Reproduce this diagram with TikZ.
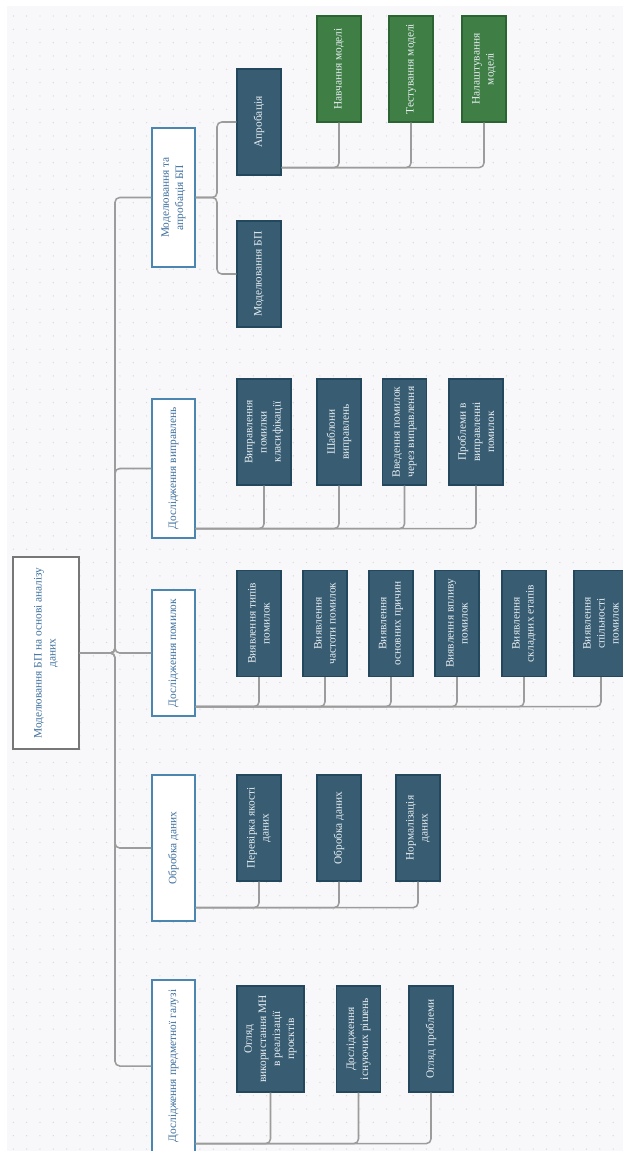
\documentclass[tikz,border=0pt]{standalone}
\usepackage{fontspec}
\setmainfont{Liberation Serif}
\usetikzlibrary{calc}

\definecolor{paper}{HTML}{F8F8FA}
\definecolor{dotc}{HTML}{D8D8DC}
\definecolor{linegray}{HTML}{9C9C9C}
\definecolor{rootline}{HTML}{777777}
\definecolor{stageline}{HTML}{4A86B0}
\definecolor{stagetext}{HTML}{3D6F9E}
\definecolor{taskfill}{HTML}{385D73}
\definecolor{taskline}{HTML}{23485D}
\definecolor{tasktext}{HTML}{E8EEF2}
\definecolor{trainfill}{HTML}{3F7F46}
\definecolor{trainline}{HTML}{2C6333}

\begin{document}
\begin{tikzpicture}[%
  x=0.03cm, y=-0.03cm,
  link/.style={draw=linegray, line width=1.3pt, rounded corners=4pt},
  box/.style={rotate=90, align=center, inner sep=1pt, line width=1pt,
    font=\fontsize{9.7}{12}\selectfont},
  root/.style={box, draw=rootline, fill=white, text=stagetext,
    minimum width=5.76cm, minimum height=1.98cm},
  stage/.style={box, draw=stageline, fill=white, text=stagetext,
    minimum height=1.29cm},
  task/.style={box, draw=taskline, fill=taskfill, text=tasktext,
    minimum width=3.18cm, minimum height=1.32cm},
  train/.style={task, draw=trainline, fill=trainfill},
]

  \clip (0,0) rectangle (623,1151);
  \fill[paper] (7,6) rectangle (623,1151);
  \foreach \i in {0,...,46}
    \foreach \j in {0,...,85}
      \fill[dotc] (13.3+13.33*\i, 16+13.33*\j) circle (0.6pt);

  % root and stages
  \node[root] (root) at (46,653) {Моделювання БП на основі аналізу\\даних};

  \node[stage, minimum width=4.17cm] (m1) at (173.5,197.5) {Моделювання та\\апробація БП};
  \node[stage, minimum width=4.17cm] (m2) at (173.5,468.5) {Дослідження виправлень};
  \node[stage, minimum width=3.78cm] (m3) at (173.5,653) {Дослідження помилок};
  \node[stage, minimum width=4.38cm] (m4) at (173.5,848) {Обробка даних};
  \node[stage, minimum width=5.16cm] (m5) at (173.5,1066) {Дослідження предметної галузі};

  \coordinate (trunk) at (115,653);
  \foreach \m in {m1,m2,m3,m4,m5}
    \draw[link] (root.south) -- (trunk) |- (\m.north);

  % modelling
  \node[task] (m11) at (259,122) {Апробація};
  \node[task] (m12) at (259,274) {Моделювання БП};
  \node[train] (g1) at (339,69) {Навчання моделі};
  \node[train] (g2) at (411,69) {Тестування моделі};
  \node[train] (g3) at (484,69) {Налаштування\\моделі};

  \coordinate (j1) at (217,197.5);
  \draw[link] (m1.south) -- (j1) |- (m11.north);
  \draw[link] (m1.south) -- (j1) |- (m12.north);
  \foreach \g in {g1,g2,g3}
    \draw[link] ($(m11.south west)+(0,-8)$) -| (\g.west);

  % corrections
  \node[task, minimum height=1.62cm] (m21) at (264,432) {Виправлення\\помилки\\класифікації};
  \node[task] (m22) at (339,432) {Шаблони\\виправлень};
  \node[task] (m23) at (404.5,432) {Введення помилок\\через виправлення};
  \node[task, minimum height=1.62cm] (m24) at (476,432) {Проблеми в\\виправленні\\помилок};
  \foreach \c in {m21,m22,m23,m24}
    \draw[link] ($(m2.south west)+(0,-10)$) -| (\c.west);

  % errors
  \node[task] (m31) at (259,623.5) {Виявлення типів\\помилок};
  \node[task] (m32) at (325,623.5) {Виявлення\\частоти помилок};
  \node[task] (m33) at (391,623.5) {Виявлення\\основних причин};
  \node[task] (m34) at (457,623.5) {Виявлення впливу\\помилок};
  \node[task] (m35) at (524,623.5) {Виявлення\\складних етапів};
  \node[task, minimum height=1.62cm] (m36) at (601,623.5) {Виявлення\\спільності\\помилок};
  \foreach \c in {m31,m32,m33,m34,m35,m36}
    \draw[link] ($(m3.south west)+(0,-10)$) -| (\c.west);

  % data
  \node[task] (m41) at (259,828) {Перевірка якості\\даних};
  \node[task] (m42) at (339,828) {Обробка даних};
  \node[task] (m43) at (418,828) {Нормалізація\\даних};
  \foreach \c in {m41,m42,m43}
    \draw[link] ($(m4.south west)+(0,-14)$) -| (\c.west);

  % domain
  \node[task, minimum height=2.01cm] (m51) at (270.5,1039) {Огляд\\використання МН\\в реалізації\\проєктів};
  \node[task] (m52) at (358.5,1039) {Дослідження\\існуючих рішень};
  \node[task] (m53) at (431,1039) {Огляд проблеми};
  \foreach \c in {m51,m52,m53}
    \draw[link] ($(m5.south west)+(0,-9)$) -| (\c.west);

\end{tikzpicture}
\end{document}
